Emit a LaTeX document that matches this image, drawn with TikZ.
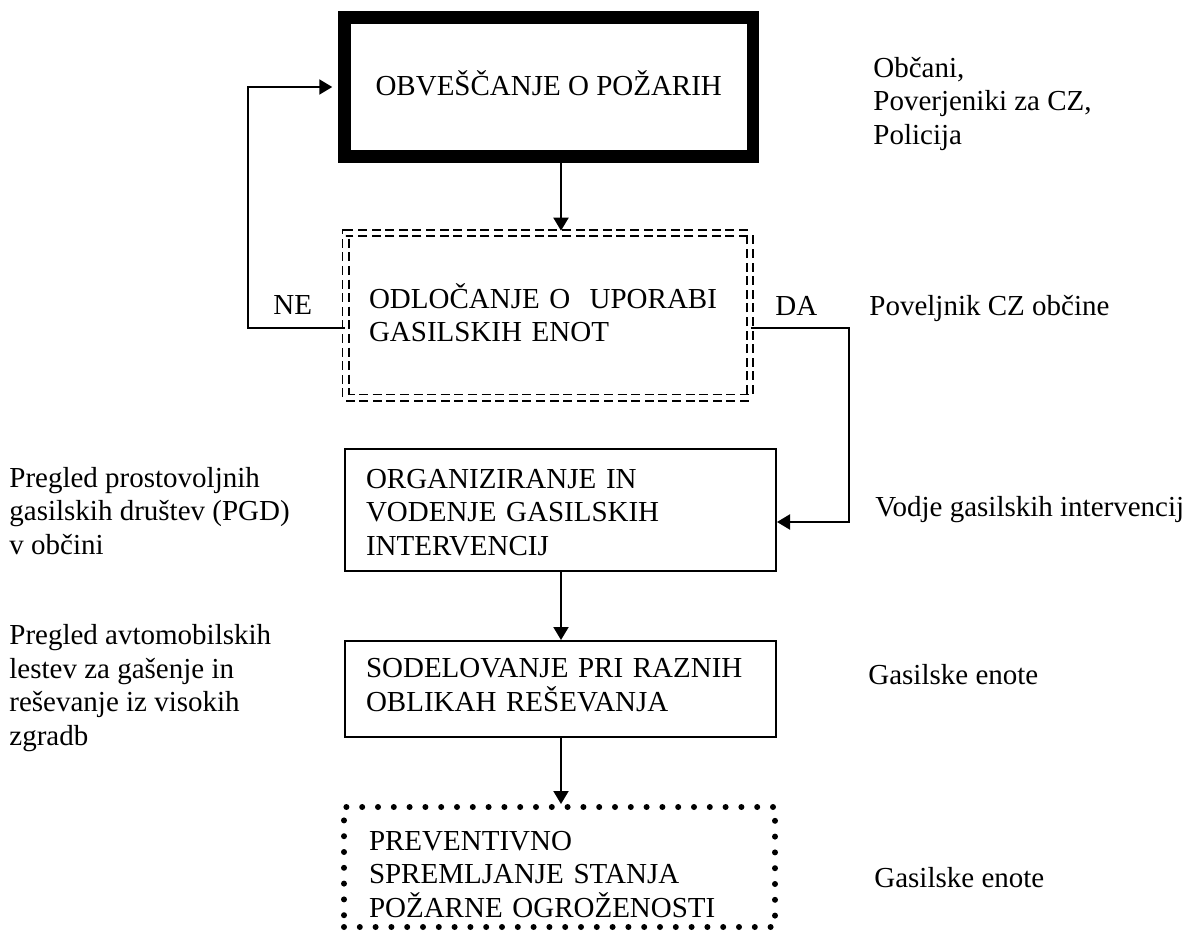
\documentclass[tikz,border=0pt]{standalone}
\usepackage{fontspec}
\setmainfont{Liberation Serif}
\usetikzlibrary{arrows.meta,calc}
\begin{document}
\begin{tikzpicture}[x=0.5pt,y=-0.5pt,
  every node/.style={font=\fontsize{14.5pt}{16.75pt}\selectfont},
  thickbox/.style={draw, line width=6.25pt, minimum width=204.25pt, minimum height=69.5pt, inner sep=0pt, align=center, text height=8pt, text depth=0pt},
  dashbox/.style={draw, double, line width=0.9pt, double distance=2.2pt, dash pattern=on 4.5pt off 2.3pt, minimum width=202.25pt, minimum height=82.25pt, inner xsep=11.75pt, inner ysep=0pt, text width=178.75pt, align=left, text height=9.5pt, text depth=16.75pt},
  plainbox/.style={draw, line width=1pt, minimum width=215.5pt, inner xsep=10.5pt, inner ysep=0pt, text width=194.5pt, align=left},
  dotbox/.style={draw, line width=3pt, dash pattern=on 0pt off 7.9pt, line cap=round, minimum width=215.5pt, minimum height=60pt, inner xsep=12.5pt, inner ysep=0pt, text width=190.5pt, align=left, text height=16.5pt, text depth=33.5pt},
  lbl/.style={anchor=base west, align=left, inner sep=0pt},
  arr/.style={-{Triangle[length=6.5pt,width=7.5pt]}, line width=1pt}
]
\useasboundingbox (0,0) rectangle (1196,933);

% boxes
\node[thickbox] (top) at (548.75,87) {OBVEŠČANJE O POŽARIH};
\node[dashbox] (dec) at (547.75,315.25) {ODLOČANJE O\ \ UPORABI\\GASILSKIH ENOT};
\node[plainbox, minimum height=61pt, text height=11.5pt, text depth=33.5pt] (org) at (560.5,510) {ORGANIZIRANJE IN\\VODENJE GASILSKIH\\INTERVENCIJ};
\node[plainbox, minimum height=48pt, text height=5.25pt, text depth=16.75pt] (sod) at (560.5,689) {SODELOVANJE PRI RAZNIH\\OBLIKAH REŠEVANJA};
\node[dotbox] (prev) at (559.5,867) {PREVENTIVNO\\SPREMLJANJE STANJA\\POŽARNE OGROŽENOSTI};

% labels (anchor = baseline of last line)
\node[lbl] (ne) at (273,314) {NE};
\node[lbl] (da) at (775,315) {DA};
\node[lbl] (obc) at (873,144) {Občani,\\Poverjeniki za CZ,\\Policija};
\node[lbl] (pov) at (869,315) {Poveljnik CZ občine};
\node[lbl] (vod) at (875,516) {Vodje gasilskih intervencij};
\node[lbl] (gas1) at (868,684) {Gasilske enote};
\node[lbl] (gas2) at (874,887) {Gasilske enote};
\node[lbl] (pgd) at (9,554) {Pregled prostovoljnih\\gasilskih društev (PGD)\\v občini};
\node[lbl] (avt) at (9,745) {Pregled avtomobilskih\\lestev za gašenje in\\reševanje iz visokih\\zgradb};

% helper coordinates
\coordinate (ax) at (561,0);
\coordinate (nex) at (248,0);
\coordinate (dv) at (849,0);
\coordinate (yl) at (0,328);
\coordinate (yd) at (0,522);

% connectors
\draw[arr, shorten >=0.7pt] (top.south -| ax) -- (dec.north -| ax);
\draw[arr, shorten >=3pt] (dec.west |- yl) -- (nex |- yl) -- (nex |- top.west) -- (top.west);
\draw[arr] (dec.east |- yl) -- (dv |- yl) -- (dv |- yd) -- (org.east |- yd);
\draw[arr] (org.south -| ax) -- (sod.north -| ax);
\draw[arr] (sod.south -| ax) -- (prev.north -| ax);
\end{tikzpicture}
\end{document}
